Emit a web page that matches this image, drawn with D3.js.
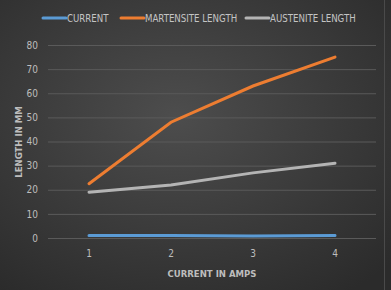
<!DOCTYPE html>
<html>
<head>
<meta charset="utf-8">
<script src="https://cdn.jsdelivr.net/npm/d3@7"></script>
<style>
  html, body { margin: 0; padding: 0; background: #333; }
  #chart { width: 391px; height: 290px; }
</style>
</head>
<body>
<div id="chart"></div>
<script>
// Dữ liệu
const amps = [1, 2, 3, 4];
const current = [1, 1, 0.8, 1];
const martensite = [22.5, 48, 63, 75];
const austenite = [19, 22, 27, 31];
const yTicks = [0, 10, 20, 30, 40, 50, 60, 70, 80];

const seriesList = [
    { name: "CURRENT", values: current, color: "#5b9bd5" },
    { name: "MARTENSITE LENGTH", values: martensite, color: "#ed7d31" },
    { name: "AUSTENITE LENGTH", values: austenite, color: "#b4b4b4" }
];

const width = 391, height = 290;
const margin = { top: 45, right: 15, bottom: 52, left: 48 };
const font = "'Liberation Sans Narrow', 'Arial Narrow', 'DejaVu Sans Condensed', sans-serif";

const svg = d3.select("#chart").append("svg")
    .attr("width", width)
    .attr("height", height)
    .style("font-family", font);

// Nền tối dạng gradient
const defs = svg.append("defs");
const grad = defs.append("radialGradient")
    .attr("id", "bg")
    .attr("cx", "45%").attr("cy", "40%").attr("r", "75%");
grad.append("stop").attr("offset", "0%").attr("stop-color", "#4d4d4d");
grad.append("stop").attr("offset", "100%").attr("stop-color", "#2b2b2b");

svg.append("rect")
    .attr("width", width).attr("height", height)
    .attr("fill", "url(#bg)");
// viền sáng mờ bên phải
svg.append("rect")
    .attr("x", width - 7).attr("y", 0)
    .attr("width", 1).attr("height", height)
    .attr("fill", "#4a4a4a");

const plotW = width - margin.left - margin.right;
const plotH = height - margin.top - margin.bottom;

const x = d3.scaleBand().domain(amps).range([0, plotW]);
const y = d3.scaleLinear().domain([0, 80]).range([plotH, 0]);

const g = svg.append("g")
    .attr("transform", `translate(${margin.left},${margin.top})`);

// Lưới ngang
g.append("g")
    .call(d3.axisLeft(y).tickValues(yTicks).tickSize(-plotW).tickFormat(d => d).tickPadding(10))
    .call(s => s.select(".domain").remove())
    .call(s => s.selectAll("line").attr("stroke", "#5a5a5a").attr("stroke-width", 1))
    .call(s => s.selectAll("text")
        .attr("fill", "#bdbdbd")
        .style("font-size", "10px")
        .style("font-family", font));

// Trục x
g.append("g")
    .attr("transform", `translate(0,${plotH})`)
    .call(d3.axisBottom(x).tickSize(0).tickPadding(12))
    .call(s => s.select(".domain").remove())
    .call(s => s.selectAll("text")
        .attr("fill", "#bdbdbd")
        .style("font-size", "10px")
        .style("font-family", font));

// Các đường
const line = d3.line()
    .x((d, i) => x(amps[i]) + x.bandwidth() / 2)
    .y(d => y(d));

seriesList.forEach(s => {
    g.append("path")
        .datum(s.values)
        .attr("fill", "none")
        .attr("stroke", s.color)
        .attr("stroke-width", 3)
        .attr("stroke-linecap", "round")
        .attr("d", line);
});

// Tiêu đề trục
svg.append("text")
    .attr("x", margin.left + plotW / 2)
    .attr("y", 277)
    .attr("text-anchor", "middle")
    .attr("fill", "#bdbdbd")
    .style("font-size", "9.5px")
    .style("font-weight", "bold")
    .text("CURRENT IN AMPS");

svg.append("text")
    .attr("transform", `translate(22,${margin.top + 97}) rotate(-90)`)
    .attr("text-anchor", "middle")
    .attr("fill", "#bdbdbd")
    .style("font-size", "9.5px")
    .style("font-weight", "bold")
    .text("LENGTH IN MM");

// Chú giải
const legendX = [43, 121, 246];
seriesList.forEach((s, i) => {
    const lg = svg.append("g").attr("transform", `translate(${legendX[i]},18)`);
    lg.append("line")
        .attr("x1", 0).attr("x2", 23)
        .attr("stroke", s.color)
        .attr("stroke-width", 3)
        .attr("stroke-linecap", "round");
    lg.append("text")
        .attr("x", 24)
        .attr("y", 3.5)
        .attr("fill", "#c4c4c4")
        .style("font-size", "9.6px")
        .text(s.name);
});
</script>
</body>
</html>
